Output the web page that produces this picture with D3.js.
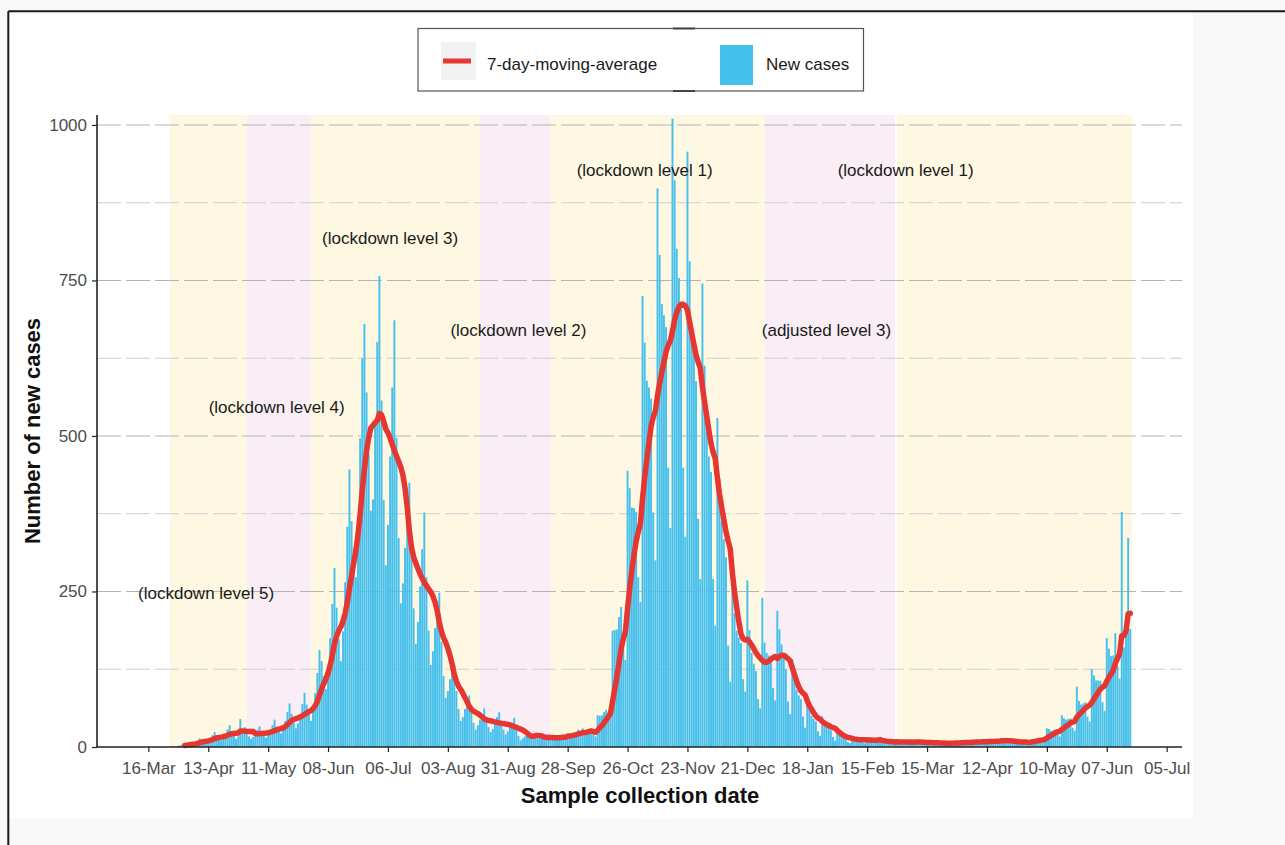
<!DOCTYPE html>
<html><head><meta charset="utf-8">
<script src="https://cdn.jsdelivr.net/npm/d3@7"></script>
<style>
body{margin:0;background:#f8f8f8}
svg{display:block}
text{font-family:"Liberation Sans",Arial,Helvetica,sans-serif}
</style>
</head><body>
<svg id="chart" width="1285" height="845"></svg>
<script>
// ---------------- DATA ----------------
const startDate = "2020-03-27"; // first day of newCases (one value per day)
const newCases = [
  1,1,1,2,3,4,6,
  4,4,4,5,8,10,14,
  11,9,7,10,14,19,24,
  19,14,11,15,21,28,35,
  25,18,13,17,45,28,32,
  23,17,13,16,21,28,33,
  25,19,15,20,27,35,44,
  33,26,22,29,42,56,70,
  53,39,30,38,52,69,87,
  68,53,42,59,87,119,156,
  138,114,93,125,175,230,288,
  224,173,138,186,265,354,446,
  363,320,273,368,496,625,680,
  570,470,380,398,526,651,757,
  557,397,292,357,467,578,686,
  497,336,231,263,320,365,425,
  309,223,166,201,258,318,377,
  273,187,132,154,191,221,248,
  169,114,79,90,109,124,132,
  90,61,42,48,61,73,83,
  57,39,28,35,44,53,62,
  45,32,24,29,38,48,56,
  40,28,20,25,32,39,47,
  30,18,11,14,17,21,24,
  18,15,20,14,16,17,12,
  14,16,18,13,15,17,12,
  16,20,18,22,19,21,17,
  22,28,24,30,20,27,24,
  28,20,17,51,50,51,56,
  60,55,54,187,188,189,209,
  225,164,140,444,416,385,384,
  378,273,233,725,650,589,578,
  560,377,300,898,791,712,694,
  675,449,352,1010,911,801,754,
  705,449,338,957,781,671,630,
  588,367,270,745,613,512,467,
  442,270,195,529,431,363,334,
  305,163,105,261,215,187,176,
  167,109,89,268,188,151,134,
  122,77,62,240,168,151,147,
  143,95,75,219,189,165,147,
  125,73,53,141,113,92,83,
  77,49,31,75,59,50,45,
  41,25,18,49,41,36,32,
  27,16,10,25,20,17,15,
  13,8,6,17,15,13,12,
  11,7,6,16,14,12,11,
  10,9,11,8,9,8,8,
  9,7,8,10,7,8,7,
  8,9,7,8,9,7,8,
  7,8,6,7,8,6,7,
  6,7,5,6,7,5,6,
  6,8,7,6,8,7,7,
  7,9,8,7,9,8,8,
  8,10,9,8,10,9,9,
  9,11,10,12,9,10,9,
  9,8,7,9,8,7,8,
  9,6,5,13,13,12,13,
  14,10,10,30,29,26,27,
  28,20,17,51,46,44,45,
  46,31,26,97,74,68,70,
  72,49,41,125,115,107,107,
  106,72,58,175,158,146,147,
  183,130,110,378,160,200,336,
  190
];
const xTickDates = ["2020-03-16","2020-04-13","2020-05-11","2020-06-08","2020-07-06","2020-08-03",
  "2020-08-31","2020-09-28","2020-10-26","2020-11-23","2020-12-21","2021-01-18","2021-02-15",
  "2021-03-15","2021-04-12","2021-05-10","2021-06-07","2021-07-05"];
const yMajorTicks = [0,250,500,750,1000];
const yMinorTicks = [125,375,625,875];
const bandStarts = ["2020-03-26","2020-05-01","2020-05-31","2020-08-18","2020-09-20","2020-12-29","2021-03-01"];
const bandEnds   = ["2020-05-01","2020-05-31","2020-08-18","2020-09-20","2020-12-29","2021-02-28","2021-06-19"];
const bandKinds  = ["a","b","a","b","a","b","a"];
const labelTexts  = ["(lockdown level 5)","(lockdown level 4)","(lockdown level 3)","(lockdown level 2)",
  "(lockdown level 1)","(adjusted level 3)","(lockdown level 1)"];
const labelDates  = ["2020-04-12","2020-05-15","2020-07-07","2020-09-05","2020-11-03","2021-01-27","2021-03-05"];
const labelValues = [248,547,818,670,928,670,928];
const legendLabels = ["7-day-moving-average","New cases"];

// ---------------- STYLE ----------------
const BAR = "#45bfec", LINE = "#e63631";
const BAND = {a:"#fef8e2", b:"#f9eef5"};
const parse = d3.utcParse("%Y-%m-%d");
const fmt = d3.utcFormat("%d-%b");

const svg = d3.select("#chart");
// canvas
svg.append("rect").attr("width",1285).attr("height",845).attr("fill","#f8f8f8");
svg.append("rect").attr("x",9).attr("y",12).attr("width",1184).attr("height",806).attr("fill","#ffffff");
svg.append("line").attr("x1",8.3).attr("y1",11.2).attr("x2",1285).attr("y2",11.2).attr("stroke","#1a1a1a").attr("stroke-width",2);
svg.append("line").attr("x1",8.3).attr("y1",11.2).attr("x2",8.3).attr("y2",845).attr("stroke","#1a1a1a").attr("stroke-width",2);

// scales
const x = d3.scaleUtc()
  .domain([Date.UTC(2020,1,21,0), Date.UTC(2021,6,12,4)])
  .range([97,1182]);
const y = d3.scaleLinear().domain([0,1016]).range([747,115]);

// data records
const t0 = parse(startDate);
const rows = newCases.map((v,i)=>({date:d3.utcDay.offset(t0,i), value:v}));
const ma = [];
for(let i=6;i<rows.length;i++){
  ma.push({date:rows[i].date, value:d3.mean(rows.slice(i-6,i+1),d=>d.value)});
}
const pxDay = x(d3.utcDay.offset(t0,1)) - x(t0);
const bw = 0.9*pxDay;

// bands
svg.append("g").selectAll("rect").data(bandStarts.map((s,i)=>({s:parse(s),e:parse(bandEnds[i]),k:bandKinds[i]})))
  .join("rect")
  .attr("x",d=>x(d.s)).attr("width",d=>x(d.e)-x(d.s))
  .attr("y",y(1016)).attr("height",y(0)-y(1016))
  .attr("fill",d=>BAND[d.k]);

// gridlines
const grid = svg.append("g");
grid.selectAll("line.mi").data(yMinorTicks).join("line").attr("class","mi")
  .attr("x1",97).attr("x2",1182).attr("y1",d=>y(d)).attr("y2",d=>y(d))
  .attr("stroke","#cfcfcf").attr("stroke-width",1).attr("stroke-dasharray","24,5");
grid.selectAll("line.ma").data(yMajorTicks.filter(d=>d>0)).join("line").attr("class","ma")
  .attr("x1",97).attr("x2",1182).attr("y1",d=>y(d)).attr("y2",d=>y(d))
  .attr("stroke","#b4b4b4").attr("stroke-width",1.1).attr("stroke-dasharray","24,5");

// bars
svg.append("g").selectAll("rect").data(rows).join("rect")
  .attr("x",d=>x(d.date)-bw/2).attr("width",bw)
  .attr("y",d=>y(d.value)).attr("height",d=>y(0)-y(d.value))
  .attr("fill",BAR);

// moving average
svg.append("path").datum(ma)
  .attr("d",d3.line().x(d=>x(d.date)).y(d=>y(d.value)))
  .attr("fill","none").attr("stroke",LINE).attr("stroke-width",5.5)
  .attr("stroke-linejoin","round").attr("stroke-linecap","round");

// annotations
svg.append("g").selectAll("text").data(labelTexts).join("text")
  .attr("x",(d,i)=>x(parse(labelDates[i]))).attr("y",(d,i)=>y(labelValues[i]))
  .attr("dy","0.35em").attr("text-anchor","middle")
  .attr("font-size",17).attr("fill","#1a1a1a").text(d=>d);

// axes
const xAxis = d3.axisBottom(x).tickValues(xTickDates.map(parse)).tickFormat(fmt).tickSize(5).tickPadding(10);
const gx = svg.append("g").attr("transform","translate(0,747)").call(xAxis);
gx.select(".domain").remove();
gx.selectAll(".tick line").attr("stroke","#222").attr("stroke-width",1.2);
gx.selectAll(".tick text").attr("font-size",17).attr("fill","#4d4d4d").attr("font-family","Liberation Sans, Arial, sans-serif").attr("dy","0.71em");
svg.append("line").attr("x1",97).attr("x2",1182).attr("y1",747).attr("y2",747).attr("stroke","#222").attr("stroke-width",1.6);

const yAxis = d3.axisLeft(y).tickValues(yMajorTicks).tickFormat(d3.format("d")).tickSize(5).tickPadding(5);
const gy = svg.append("g").attr("transform","translate(97,0)").call(yAxis);
gy.select(".domain").remove();
gy.selectAll(".tick line").attr("stroke","#222").attr("stroke-width",1.2);
gy.selectAll(".tick text").attr("font-size",17).attr("fill","#4d4d4d").attr("font-family","Liberation Sans, Arial, sans-serif");
svg.append("line").attr("x1",97).attr("x2",97).attr("y1",115).attr("y2",747).attr("stroke","#222").attr("stroke-width",1.6);

// axis titles
svg.append("text").attr("x",640).attr("y",803).attr("text-anchor","middle")
  .attr("font-size",22).attr("font-weight","bold").attr("fill","#111").text("Sample collection date");
svg.append("text").attr("transform","translate(40,431) rotate(-90)").attr("text-anchor","middle")
  .attr("font-size",22).attr("font-weight","bold").attr("fill","#111").text("Number of new cases");

// legend
const lg = svg.append("g");
lg.append("rect").attr("x",418).attr("y",28.5).attr("width",445.5).attr("height",62.5)
  .attr("fill","#fff").attr("stroke","#555").attr("stroke-width",1.2);
lg.append("rect").attr("x",673).attr("y",27.5).attr("width",22).attr("height",2).attr("fill","#444");
lg.append("rect").attr("x",673).attr("y",90).attr("width",22).attr("height",2).attr("fill","#444");
lg.append("rect").attr("x",441).attr("y",42).attr("width",35).attr("height",38).attr("fill","#f2f2f2");
lg.append("line").attr("x1",443).attr("x2",471).attr("y1",61).attr("y2",61).attr("stroke",LINE).attr("stroke-width",5);
lg.append("rect").attr("x",720).attr("y",45).attr("width",33).attr("height",40).attr("fill",BAR);
lg.append("text").attr("x",487).attr("y",69.5).attr("font-size",17).attr("fill","#1a1a1a").text(legendLabels[0]);
lg.append("text").attr("x",766).attr("y",69.5).attr("font-size",17).attr("fill","#1a1a1a").text(legendLabels[1]);
</script>
</body></html>
